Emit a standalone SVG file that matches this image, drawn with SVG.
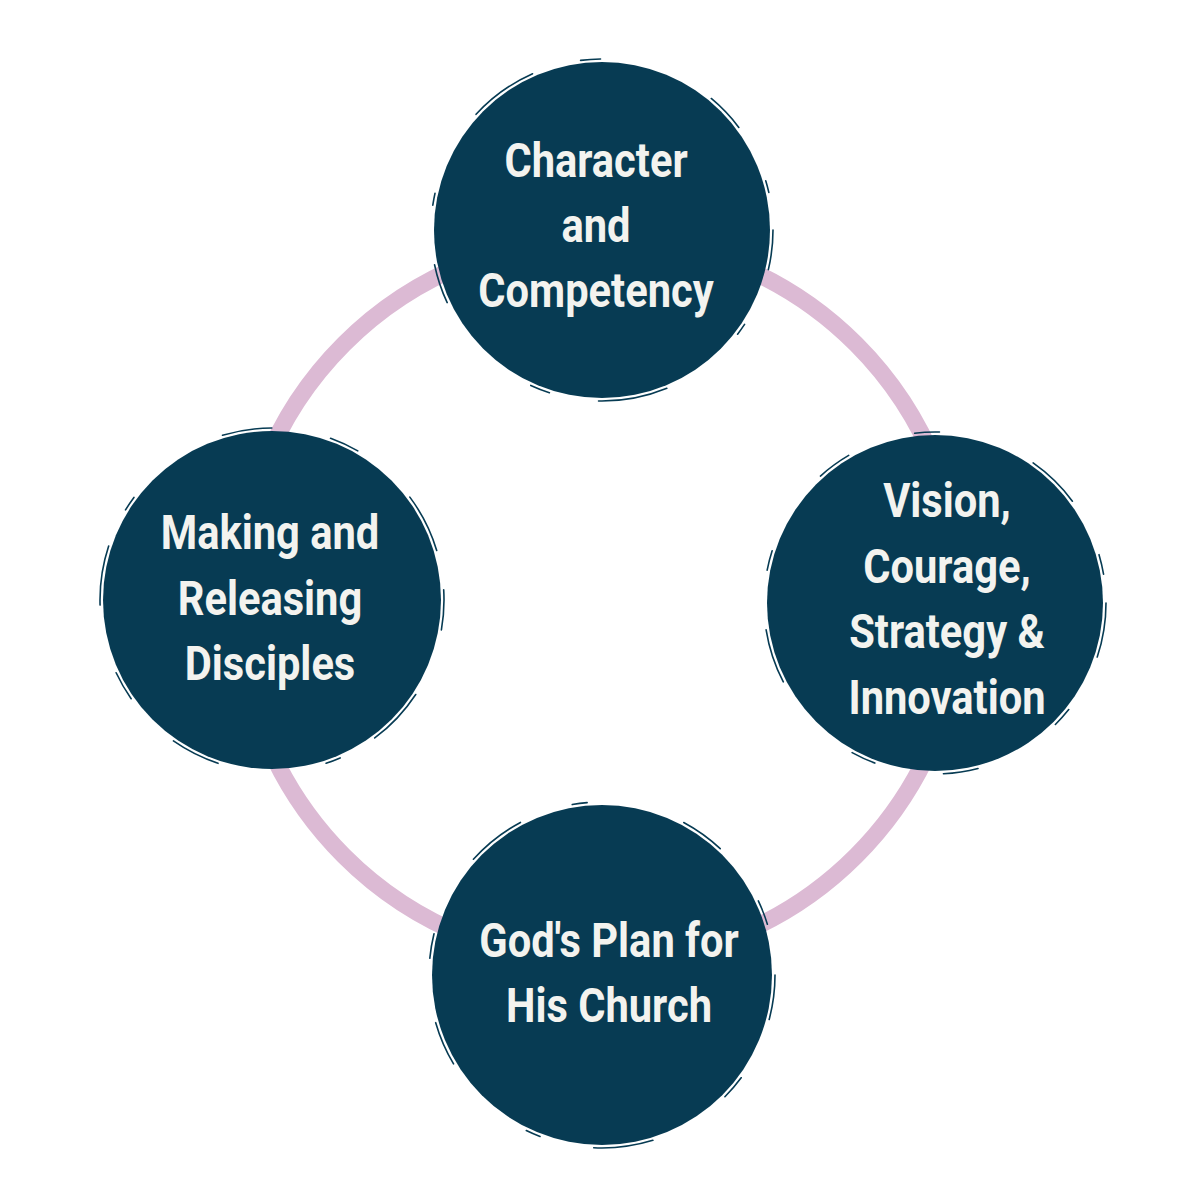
<svg xmlns="http://www.w3.org/2000/svg" width="1200" height="1200" viewBox="0 0 1200 1200">
<style>
.disc{fill:#073b53}
.brush{fill:none;stroke:#073b53;stroke-width:1.6;stroke-linecap:round}
.lbl{font-family:Roboto,"Liberation Sans",sans-serif;font-weight:700;font-size:49px;fill:#f3f3ef;text-anchor:middle}
.ring{fill:none;stroke:#dcbad4;stroke-width:17}
</style>
<rect width="1200" height="1200" fill="#ffffff"/>
<g id="connectors">
<circle class="ring" cx="600" cy="600" r="362"/>
</g>
<g id="node-top">
<circle class="disc" cx="602" cy="230" r="168"/>
<circle class="brush" cx="602" cy="230" r="171" stroke-dasharray="40 60 12 90 70 50 20 120"/>
<g transform="translate(596,0) scale(0.85,1)">
<text class="lbl" x="0" y="177">Character</text>
<text class="lbl" x="0" y="242">and</text>
<text class="lbl" x="0" y="307">Competency</text>
</g>
</g>
<g id="node-left">
<circle class="disc" cx="272" cy="600" r="169"/>
<circle class="brush" cx="272" cy="600" r="172" stroke-dasharray="30 70 60 40 15 110 50 60"/>
<g transform="translate(270,0) scale(0.85,1)">
<text class="lbl" x="0" y="549">Making and</text>
<text class="lbl" x="0" y="615">Releasing</text>
<text class="lbl" x="0" y="680">Disciples</text>
</g>
</g>
<g id="node-right">
<circle class="disc" cx="935" cy="603" r="168"/>
<circle class="brush" cx="935" cy="603" r="171" stroke-dasharray="55 60 20 90 35 70 25 100"/>
<g transform="translate(947,0) scale(0.85,1)">
<text class="lbl" x="0" y="517">Vision,</text>
<text class="lbl" x="0" y="583">Courage,</text>
<text class="lbl" x="0" y="648">Strategy &amp;</text>
<text class="lbl" x="0" y="714">Innovation</text>
</g>
</g>
<g id="node-bottom">
<circle class="disc" cx="602" cy="975" r="170"/>
<circle class="brush" cx="602" cy="975" r="173" stroke-dasharray="45 65 25 85 60 55 15 100"/>
<g transform="translate(609,0) scale(0.85,1)">
<text class="lbl" x="0" y="957">God's Plan for</text>
<text class="lbl" x="0" y="1022">His Church</text>
</g>
</g>
</svg>
